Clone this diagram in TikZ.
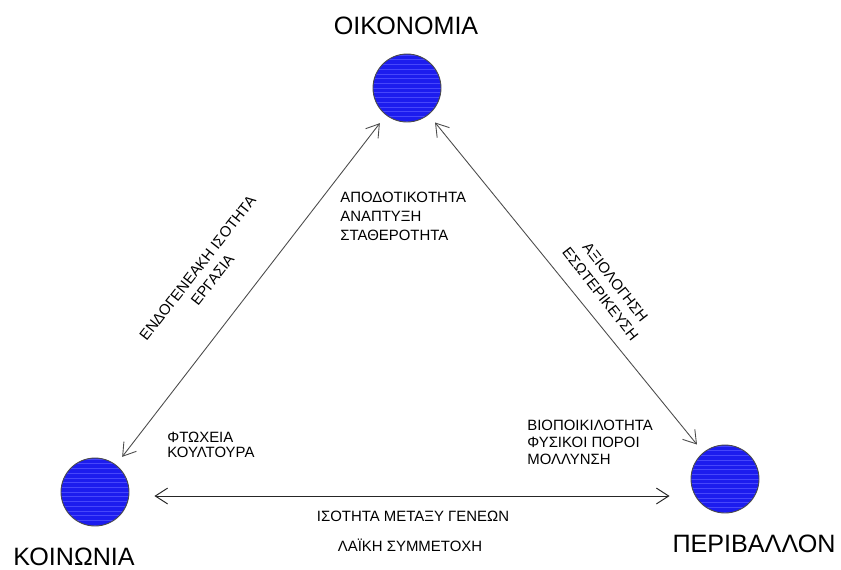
\documentclass[tikz,border=0pt]{standalone}
\usepackage{fontspec}
\setmainfont{Liberation Sans}
\usetikzlibrary{positioning,arrows.meta}
\definecolor{pole}{RGB}{28,28,238}
\definecolor{stripe}{RGB}{70,70,250}
\definecolor{edge}{RGB}{75,75,75}

\tikzset{
  pillar/.style={circle,draw=edge,line width=0.5pt,fill=pole,minimum size=1.36cm,inner sep=0pt,
    path picture={\foreach \k in {-12,...,12}
      \draw[stripe,line width=0.3pt] ([yshift=\k*2.7pt]path picture bounding box.west)
        -- ([yshift=\k*2.7pt]path picture bounding box.east);}},
  title/.style={font=\fontsize{14.3}{17}\selectfont,inner sep=0pt},
  note/.style={font=\fontsize{8.5}{10.8}\selectfont,align=left,inner sep=0pt},
  barb/.style={{Straight Barb[length=7pt,width=9pt]}-{Straight Barb[length=7pt,width=9pt]}},
  link/.style={barb,edge,line width=0.5pt,shorten <=0.2cm,shorten >=0.2cm},
}

\begin{document}
\begin{tikzpicture}[x=0.02cm,y=-0.02cm]
    \useasboundingbox (0,0) rectangle (841,569);
    % the three poles
    \node[pillar] (eco) at (407,88) {};
    \node[pillar] (soc) at (95,492) {};
    \node[pillar] (env) at (725,479) {};
    \node[title] (econame) at (406,26) {ΟΙΚΟΝΟΜΙΑ};
    \node[title] (socname) at (74,557) {ΚΟΙΝΩΝΙΑ};
    \node[title] (envname) at (754,544) {ΠΕΡΙΒΑΛΛΟΝ};
    % sides
    \draw[link] (eco) -- (soc);
    \draw[link] (eco) -- (env);
    \draw[barb,black!85,line width=0.55pt]
      ([xshift=0.5cm,yshift=-0.08cm]soc.east) -- ([xshift=-0.42cm,yshift=-0.08cm]soc.east -| env.west);
    % side labels
    \node[note,align=center,rotate=52] (socside) at (205,274)
      {ΕΝΔΟΓΕΝΕΑΚΗ ΙΣΟΤΗΤΑ\\ΕΡΓΑΣΙΑ};
    \node[note,align=center,rotate=-52] (envside) at (608,288)
      {ΑΞΙΟΛΟΓΗΣΗ\\ΕΣΩΤΕΡΙΚΕΥΣΗ};
    \node[note,align=center] (bottom1) at (413,516) {ΙΣΟΤΗΤΑ ΜΕΤΑΞΥ ΓΕΝΕΩΝ};
    \node[note,align=center] (bottom2) at (410,545) {ΛΑΪΚΗ ΣΥΜΜΕΤΟΧΗ};
    % pole labels
    \node[note,anchor=west] (ecotext) at (340,216)
      {ΑΠΟΔΟΤΙΚΟΤΗΤΑ\\ΑΝΑΠΤΥΞΗ\\ΣΤΑΘΕΡΟΤΗΤΑ};
    \node[note,anchor=west,font=\fontsize{8.5}{8.8}\selectfont] (soctext) at (167,445)
      {ΦΤΩΧΕΙΑ\\ΚΟΥΛΤΟΥΡΑ};
    \node[note,anchor=west,font=\fontsize{8.5}{9.7}\selectfont] (envtext) at (527,442)
      {ΒΙΟΠΟΙΚΙΛΟΤΗΤΑ\\ΦΥΣΙΚΟΙ ΠΟΡΟΙ\\ΜΟΛΛΥΝΣΗ};
  \end{tikzpicture}
\end{document}
